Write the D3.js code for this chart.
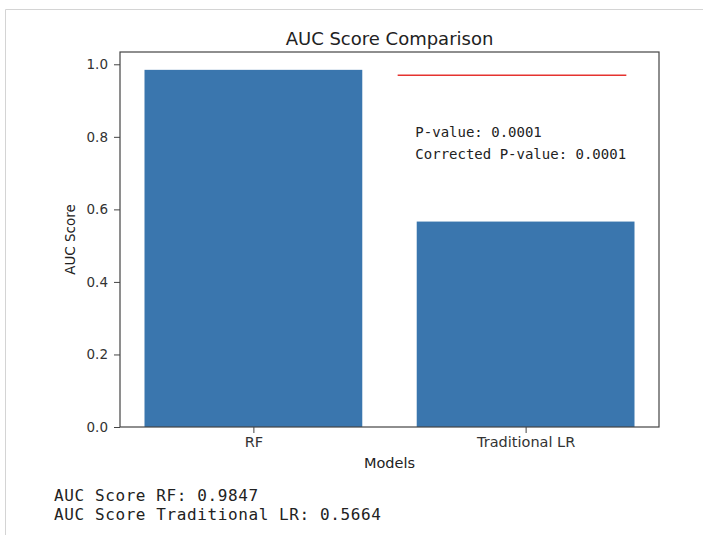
<!DOCTYPE html>
<html lang="en">
<head>
    <meta charset="UTF-8">
    <script src="https://d3js.org/d3.v7.min.js"></script>
    <title>AUC Score Comparison</title>
    <style>
        body { margin:0; background:#fff; }
        .mono { font-family:"DejaVu Sans Mono", monospace; fill:#222; }
        .lbl { font-family:"DejaVu Sans", sans-serif; fill:#222; }
    </style>
</head>
<body>
    <script>
        var models = ["RF", "Traditional LR"];
        var scores = [0.9847, 0.5664];
        var yticks = [0.0, 0.2, 0.4, 0.6, 0.8, 1.0];
        var pLine = [[0.53, 0.97], [1.37, 0.97]];
        var pText = ["P-value: 0.0001", "Corrected P-value: 0.0001"];
        var outText = ["AUC Score RF: 0.9847", "AUC Score Traditional LR: 0.5664"];

        var width = 703, height = 535;
        var mLeft = 120, mRight = 659, mTop = 52, mBottom = 427;

        var svg = d3.select("body").append("svg").attr("width", width).attr("height", height);

        // notebook cell border
        svg.append("path").attr("d", "M5.5,535 V9.5 H703").attr("fill", "none").attr("stroke", "#d4d4d4");

        var xscale = d3.scaleLinear().domain([-0.49, 1.49]).range([mLeft, mRight]);
        var yscale = d3.scaleLinear().domain([0, 1.0339]).range([mBottom, mTop]);

        svg.selectAll("rect.bar").data(scores).enter().append("rect").attr("class", "bar")
            .attr("x", (d, i) => xscale(i - 0.4))
            .attr("width", xscale(0.8) - xscale(0))
            .attr("y", d => yscale(d))
            .attr("height", d => mBottom - yscale(d))
            .attr("fill", "#3a76ae");

        var line = d3.line().x(d => xscale(d[0])).y(d => yscale(d[1]));
        svg.append("path").attr("d", line(pLine)).attr("fill", "none").attr("stroke", "#e5332f").attr("stroke-width", 1.5);

        svg.append("rect").attr("x", mLeft).attr("y", mTop).attr("width", mRight - mLeft).attr("height", mBottom - mTop)
            .attr("fill", "none").attr("stroke", "#444").attr("stroke-width", 1.2);

        var yaxis = d3.axisLeft(yscale).tickValues(yticks).tickFormat(d3.format(".1f")).tickSize(6).tickPadding(6);
        var gy = svg.append("g").attr("transform", "translate(" + mLeft + ",0)").call(yaxis);
        var xaxis = d3.axisBottom(xscale).tickValues([0, 1]).tickFormat(i => models[i]).tickSize(6).tickPadding(4);
        var gx = svg.append("g").attr("transform", "translate(0," + mBottom + ")").call(xaxis);
        [gy, gx].forEach(g => {
            g.select(".domain").remove();
            g.selectAll(".tick line").attr("stroke", "#444");
            g.selectAll(".tick text").attr("font-family", "DejaVu Sans, sans-serif").attr("fill", "#333");
        });
        gy.selectAll(".tick text").attr("font-size", 13.5);
        gx.selectAll(".tick text").attr("font-size", 14.5);

        svg.append("text").attr("class", "lbl").attr("x", (mLeft + mRight) / 2).attr("y", 45)
            .attr("text-anchor", "middle").attr("font-size", 18).text("AUC Score Comparison");
        svg.append("text").attr("class", "lbl").attr("x", (mLeft + mRight) / 2).attr("y", 468)
            .attr("text-anchor", "middle").attr("font-size", 14.5).text("Models");
        svg.append("text").attr("class", "lbl").attr("transform", "translate(75," + ((mTop + mBottom) / 2) + ") rotate(-90)")
            .attr("text-anchor", "middle").attr("font-size", 13.5).text("AUC Score");

        svg.selectAll("text.pt").data(pText).enter().append("text").attr("class", "mono pt")
            .attr("x", xscale(0.595)).attr("y", (d, i) => 137 + i * 22)
            .attr("font-size", 14).text(d => d);

        svg.selectAll("text.out").data(outText).enter().append("text").attr("class", "mono out")
            .attr("x", 54).attr("y", (d, i) => 501 + i * 19)
            .attr("font-size", 16).attr("letter-spacing", 0.6).text(d => d);
    </script>
</body>
</html>
